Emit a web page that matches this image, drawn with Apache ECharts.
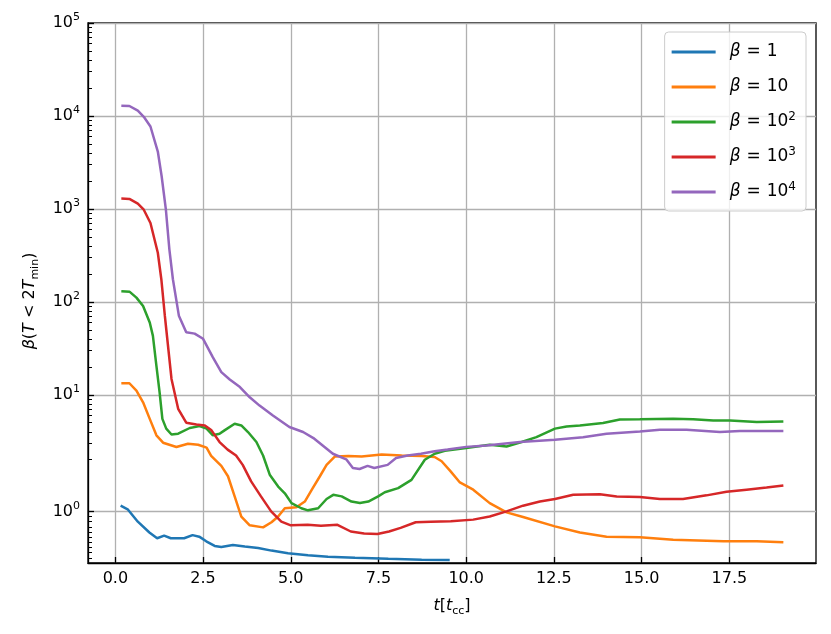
<!DOCTYPE html>
<html>
<head>
<meta charset="utf-8">
<script src="https://cdn.jsdelivr.net/npm/echarts@6/dist/echarts.min.js"></script>
<style>
  html, body { margin: 0; padding: 0; background: #fff; }
  #chart { width: 831px; height: 634px; }
</style>
</head>
<body>
<div id="chart"></div>
<script>
// time in t_cc, values are beta(T < 2 T_min)
const tBeta1 = [0.15, 0.35, 0.64, 0.97, 1.19, 1.39, 1.58, 1.96, 2.2, 2.39, 2.59, 2.83, 3.02, 3.35, 3.69, 4.07, 4.45, 4.92, 5.49, 6.06, 6.83, 7.78, 8.73, 9.53]
const beta1 = [1.11, 1.04, 0.80, 0.59, 0.48, 0.53, 0.48, 0.48, 0.54, 0.51, 0.42, 0.33, 0.31, 0.35, 0.32, 0.29, 0.24, 0.19, 0.15, 0.12, 0.10, 0.08, 0.064, 0.058]

const tBeta10 = [0.17, 0.40, 0.60, 0.79, 0.98, 1.17, 1.36, 1.74, 2.07, 2.36, 2.6, 2.73, 3.02, 3.21, 3.4, 3.59, 3.83, 4.21, 4.45, 4.64, 4.83, 5.16, 5.4, 5.6, 5.83, 6.02, 6.26, 6.64, 7.02, 7.59, 8.16, 8.73, 9.1, 9.3, 9.55, 9.82, 10.2, 10.67, 11.15, 11.62, 12.53, 13.24, 14.0, 14.95, 15.9, 17.33, 18.28, 19.04]
const beta10 = [13.3, 13.3, 11.1, 8.3, 5.5, 3.66, 3.05, 2.74, 2.97, 2.9, 2.7, 2.2, 1.88, 1.68, 1.29, 0.90, 0.73, 0.69, 0.79, 0.90, 1.06, 1.08, 1.19, 1.42, 1.68, 1.90, 2.17, 2.2, 2.17, 2.28, 2.22, 2.2, 2.14, 1.97, 1.78, 1.56, 1.42, 1.16, 0.98, 0.89, 0.71, 0.59, 0.51, 0.50, 0.45, 0.42, 0.42, 0.40]

const tBeta100 = [0.17, 0.41, 0.6, 0.79, 0.98, 1.07, 1.17, 1.26, 1.34, 1.45, 1.6, 1.79, 2.12, 2.4, 2.6, 2.78, 2.97, 3.11, 3.4, 3.59, 3.78, 4.02, 4.21, 4.4, 4.64, 4.83, 5.02, 5.3, 5.49, 5.78, 6.02, 6.21, 6.45, 6.73, 6.97, 7.21, 7.49, 7.68, 8.06, 8.44, 8.82, 9.1, 9.39, 10.0, 10.67, 11.15, 11.58, 12.0, 12.53, 12.86, 13.24, 13.9, 14.38, 14.95, 15.9, 16.47, 17.04, 17.52, 18.28, 19.04]
const beta100 = [130, 128, 111, 90, 60, 43, 20.5, 10.7, 5.5, 4.32, 3.74, 3.81, 4.39, 4.6, 4.32, 3.66, 3.8, 4.14, 4.88, 4.68, 3.97, 3.1, 2.22, 1.71, 1.48, 1.35, 1.16, 1.06, 1.02, 1.06, 1.24, 1.32, 1.29, 1.19, 1.16, 1.19, 1.29, 1.37, 1.45, 1.61, 2.0, 2.32, 2.5, 2.67, 2.9, 2.78, 3.1, 3.5, 4.32, 4.56, 4.68, 4.97, 5.42, 5.44, 5.52, 5.44, 5.3, 5.3, 5.08, 5.16]

const tBeta1000 = [0.17, 0.4, 0.64, 0.81, 1.0, 1.21, 1.31, 1.41, 1.45, 1.6, 1.79, 2.02, 2.31, 2.55, 2.74, 2.97, 3.2, 3.44, 3.63, 3.87, 4.15, 4.44, 4.73, 5.0, 5.48, 5.86, 6.33, 6.71, 7.09, 7.47, 7.8, 8.13, 8.56, 8.99, 9.56, 10.2, 10.67, 11.15, 11.62, 12.1, 12.53, 13.05, 13.81, 14.29, 14.95, 15.52, 16.18, 16.85, 17.42, 17.99, 18.56, 19.04]
const beta1000 = [1290, 1280, 1140, 980, 705, 337, 175, 71, 51, 14.8, 7.06, 5.0, 4.8, 4.68, 4.14, 3.1, 2.57, 2.22, 1.9, 1.58, 1.29, 1.0, 0.80, 0.73, 0.74, 0.72, 0.74, 0.61, 0.57, 0.56, 0.61, 0.68, 0.79, 0.80, 0.81, 0.84, 0.9, 1.0, 1.11, 1.19, 1.24, 1.32, 1.33, 1.29, 1.28, 1.24, 1.24, 1.31, 1.38, 1.42, 1.46, 1.50]

const tBeta10000 = [0.17, 0.4, 0.64, 0.81, 1.0, 1.21, 1.32, 1.44, 1.54, 1.64, 1.81, 2.02, 2.26, 2.5, 2.78, 3.02, 3.26, 3.55, 3.83, 4.11, 4.49, 4.96, 5.35, 5.67, 6.2, 6.58, 6.77, 6.96, 7.19, 7.38, 7.76, 8.0, 8.33, 8.71, 9.1, 9.47, 10.0, 10.58, 11.53, 12.53, 13.33, 14.0, 14.95, 15.52, 16.28, 17.23, 17.8, 19.04]
const beta10000 = [12900, 12800, 11400, 9800, 7700, 4140, 2230, 980, 365, 175, 71, 47, 45.5, 40, 25.3, 17.5, 14.6, 12.1, 9.4, 7.65, 5.98, 4.5, 3.98, 3.37, 2.32, 2.02, 1.84, 1.82, 1.88, 1.84, 1.90, 2.09, 2.22, 2.32, 2.47, 2.57, 2.75, 2.85, 3.1, 3.28, 3.5, 3.81, 4.03, 4.2, 4.2, 3.97, 4.07, 4.07]

const xTicks = [0, 2.5, 5, 7.5, 10, 12.5, 15, 17.5]
const yDecades = [0, 1, 2, 3, 4, 5]

// symlog like matplotlib: linthresh 2, linscale 1
const LINTHRESH = 2
const LINSCALE = 1 / (1 - 1 / 10)
function symlog(v) {
  if (v <= LINTHRESH) return v * LINSCALE
  return LINTHRESH * (LINSCALE + Math.log10(v / LINTHRESH))
}

const majorTicks = yDecades.map((k) => symlog(Math.pow(10, k)))
let minorTicks = []
for (let i = 1; i < 10; i++) minorTicks.push(symlog(i / 10))
minorTicks.push(0)
for (let k = 0; k < 5; k++) {
  for (let m = 2; m < 10; m++) minorTicks.push(symlog(m * Math.pow(10, k)))
}

const FONT = 'DejaVu Sans'
const FS = 16
const LFS = 17
const colors = ['#1f77b4', '#ff7f0e', '#2ca02c', '#d62728', '#9467bd']
const names = ['b0', 'b1', 'b2', 'b3', 'b4']
const legendText = {
  b0: '{li|β}{eq|=}1',
  b1: '{li|β}{eq|=}10',
  b2: '{li|β}{eq|=}10{lsup|2}',
  b3: '{li|β}{eq|=}10{lsup|3}',
  b4: '{li|β}{eq|=}10{lsup|4}',
}
const allT = [tBeta1, tBeta10, tBeta100, tBeta1000, tBeta10000]
const allV = [beta1, beta10, beta100, beta1000, beta10000]

const richText = {
  i: { fontFamily: FONT, fontStyle: 'italic', fontSize: FS, lineHeight: 22, color: '#000' },
  sup: { fontFamily: FONT, fontSize: 11, lineHeight: 10, verticalAlign: 'top', color: '#000' },
  sub: { fontFamily: FONT, fontSize: 11, lineHeight: 10, verticalAlign: 'bottom', color: '#000' },
  li: { fontFamily: FONT, fontStyle: 'italic', fontSize: LFS, lineHeight: 22, color: '#000' },
  eq: { fontFamily: FONT, fontSize: LFS, lineHeight: 22, color: '#000', padding: [0, 6, 0, 6] },
  lsup: { fontFamily: FONT, fontSize: 12, lineHeight: 10, verticalAlign: 'top', color: '#000' },
}

let chart = echarts.init(document.getElementById('chart'))

let option = {
  animation: false,
  backgroundColor: '#fff',
  grid: {
    left: 88,
    right: 15,
    top: 23,
    bottom: 71,
    show: true,
    borderColor: '#000',
    borderWidth: 1.3,
  },
  legend: {
    data: names,
    right: 25,
    top: 32,
    orient: 'vertical',
    icon: 'rect',
    itemWidth: 44,
    itemHeight: 3,
    itemGap: 13,
    padding: [9, 10, 8, 7],
    backgroundColor: 'rgba(255,255,255,0.8)',
    borderColor: '#cccccc',
    borderWidth: 1,
    borderRadius: 4,
    formatter: (n) => legendText[n],
    textStyle: {
      fontFamily: FONT,
      fontSize: LFS,
      lineHeight: 22,
      color: '#000',
      padding: [0, 0, 0, 9],
      rich: richText,
    },
  },
  xAxis: {
    type: 'value',
    min: -0.78,
    max: 19.97,
    name: '{i|t}[{i|t}{sub|cc}]',
    nameLocation: 'middle',
    nameGap: 32,
    nameTextStyle: { fontFamily: FONT, fontSize: FS, lineHeight: 22, color: '#000', rich: richText },
    axisLine: { show: true, onZero: false, lineStyle: { color: '#000', width: 1.3 } },
    axisTick: { show: true, inside: true, length: 6, customValues: xTicks, lineStyle: { color: '#000', width: 1.3 } },
    axisLabel: {
      customValues: xTicks,
      formatter: (v) => v.toFixed(1),
      fontFamily: FONT,
      fontSize: FS,
      color: '#000',
      margin: 8,
    },
    splitLine: { show: true, lineStyle: { color: '#b0b0b0', width: 1.3 } },
  },
  yAxis: [
    {
      type: 'value',
      min: 0,
      max: symlog(1e5),
      name: '{i|β}({i|T} < 2{i|T}{sub|min})',
      nameLocation: 'middle',
      nameGap: 47,
      nameRotate: 90,
      nameTextStyle: { fontFamily: FONT, fontSize: FS, lineHeight: 22, color: '#000', padding: [0, 16, 0, 0], rich: richText },
      axisLine: { show: true, onZero: false, lineStyle: { color: '#000', width: 1.3 } },
      axisTick: { show: true, inside: true, length: 6, customValues: majorTicks, lineStyle: { color: '#000', width: 1.3 } },
      axisLabel: {
        customValues: majorTicks,
        formatter: (v) => {
          let k = yDecades.find((d) => Math.abs(symlog(Math.pow(10, d)) - v) < 1e-6)
          return '10{sup|' + k + '}'
        },
        fontFamily: FONT,
        fontSize: FS,
        lineHeight: 22,
        color: '#000',
        margin: 8,
        rich: richText,
      },
      splitLine: { show: true, lineStyle: { color: '#b0b0b0', width: 1.3 } },
    },
    {
      type: 'value',
      min: 0,
      max: symlog(1e5),
      position: 'left',
      axisLine: { show: false, onZero: false },
      axisTick: { show: true, inside: true, length: 4, customValues: minorTicks, lineStyle: { color: '#000', width: 1 } },
      axisLabel: { show: false },
      splitLine: { show: false },
    },
  ],
  series: names.map((n, i) => ({
    name: n,
    type: 'line',
    yAxisIndex: 0,
    showSymbol: false,
    symbol: 'none',
    color: colors[i],
    lineStyle: { width: 2.5, color: colors[i] },
    data: allT[i].map((t, j) => [t, symlog(allV[i][j])]),
    z: 3 + i,
  })),
}

chart.setOption(option)
</script>
</body>
</html>
